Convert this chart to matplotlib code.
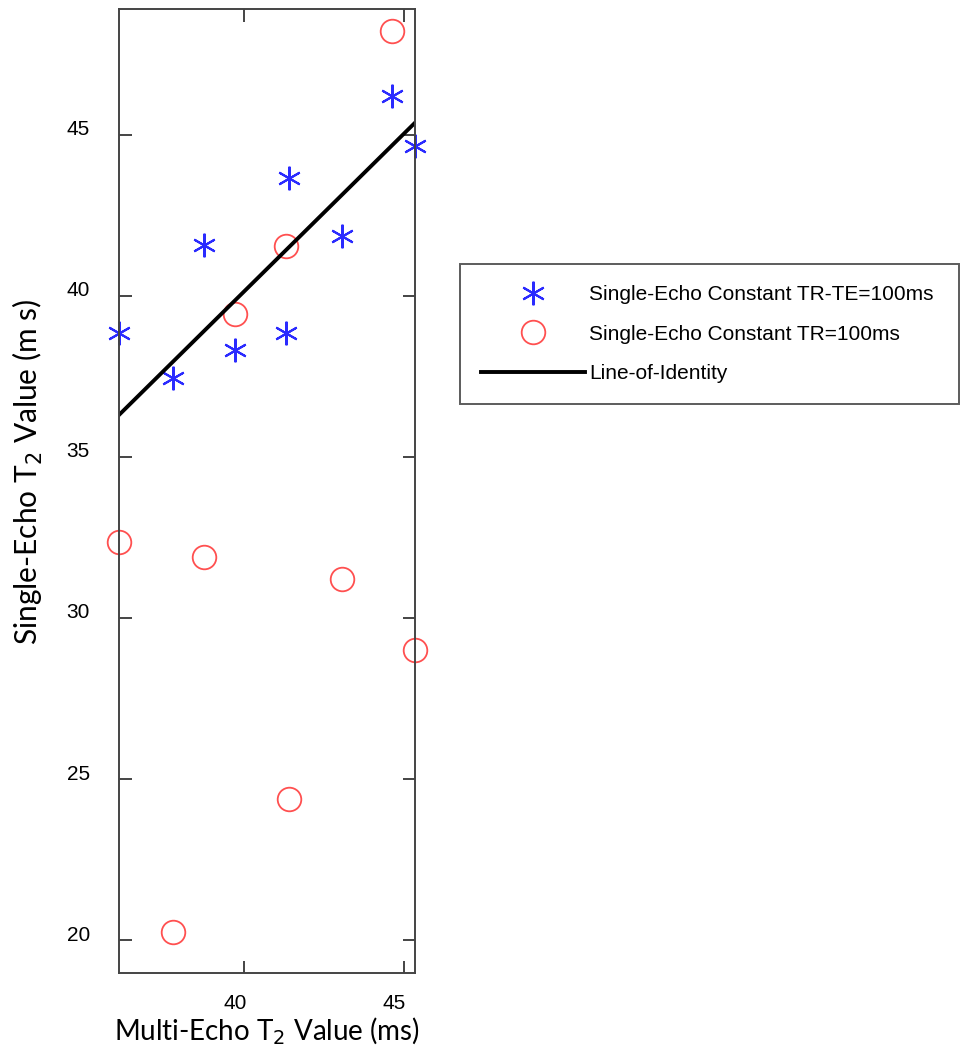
import matplotlib
matplotlib.use('Agg')
import matplotlib.pyplot as plt
import matplotlib.transforms as mtransforms

# multi-echo T2 (x) shared by both single-echo series
multi_echo = [36.09, 37.78, 38.76, 39.73, 41.32, 41.42, 43.07, 44.65, 45.36]
const_tr_te = [38.84, 37.44, 41.56, 38.32, 38.84, 43.66, 41.84, 46.21, 44.64]
const_tr = [32.35, 20.26, 31.90, 39.43, 41.55, 24.38, 31.21, 48.21, 29.01]
identity_x = [36.09, 45.36]
identity_y = [36.30, 45.37]

x_ticks = [40, 45]
y_ticks = [20, 25, 30, 35, 40, 45]

fig = plt.figure(figsize=(9.73, 10.49), dpi=100)
ax = fig.add_axes([119 / 973, 76 / 1049, 296 / 973, 964 / 1049])

ax.plot(multi_echo, const_tr_te, linestyle='none', marker=(6, 2, 0), markersize=17,
        markeredgewidth=1.5, color='#2b2bff', clip_on=False,
        label='Single-Echo Constant TR-TE=100ms')
ax.plot(multi_echo, const_tr, linestyle='none', marker='o', markersize=17,
        markerfacecolor='none', markeredgewidth=1.3, markeredgecolor='#ff5050',
        clip_on=False, label='Single-Echo Constant TR=100ms')
ax.plot(identity_x, identity_y, color='black', linewidth=2.8, label='Line-of-Identity')

ax.set_xlim(36.09, 45.36)
ax.set_ylim(18.98, 48.9)
ax.set_xticks(x_ticks)
ax.set_yticks(y_ticks)

for s in ax.spines.values():
    s.set_color('#444444')
    s.set_linewidth(1.4)
ax.tick_params(direction='in', length=9, width=1.4, color='#444444',
               top=True, right=True, labelsize=15)
for lab in ax.get_xticklabels() + ax.get_yticklabels():
    lab.set_fontfamily('Liberation Sans')
ax.tick_params(axis='x', pad=15)
ax.tick_params(axis='y', pad=21)

# labels in the original sit a bit off their ticks
for lab in ax.get_xticklabels():
    lab.set_transform(lab.get_transform() + mtransforms.ScaledTranslation(-9 / 100, 0, fig.dpi_scale_trans))
for lab in ax.get_yticklabels():
    lab.set_transform(lab.get_transform() + mtransforms.ScaledTranslation(0, 7 / 100, fig.dpi_scale_trans))

ax.set_xlabel('Multi-Echo T$_2$ Value (ms)', fontsize=20, family='Lato', labelpad=2)
ax.set_ylabel('Single-Echo T$_2$ Value (m s)', fontsize=21.5, family='Lato')
ax.yaxis.set_label_coords(-0.25, 0.52)

leg = fig.legend(loc='upper left',
                 bbox_to_anchor=(460 / 973, 1 - 404 / 1049, 499 / 973, 140 / 1049),
                 mode='expand', handlelength=5.0, handletextpad=0.2,
                 labelspacing=1.0, borderpad=1.0, borderaxespad=0, fancybox=False,
                 prop={'family': 'Liberation Sans', 'size': 15})
leg.get_frame().set_edgecolor('#333333')
leg.get_frame().set_linewidth(1.4)

fig.savefig('out.png', dpi=100)
